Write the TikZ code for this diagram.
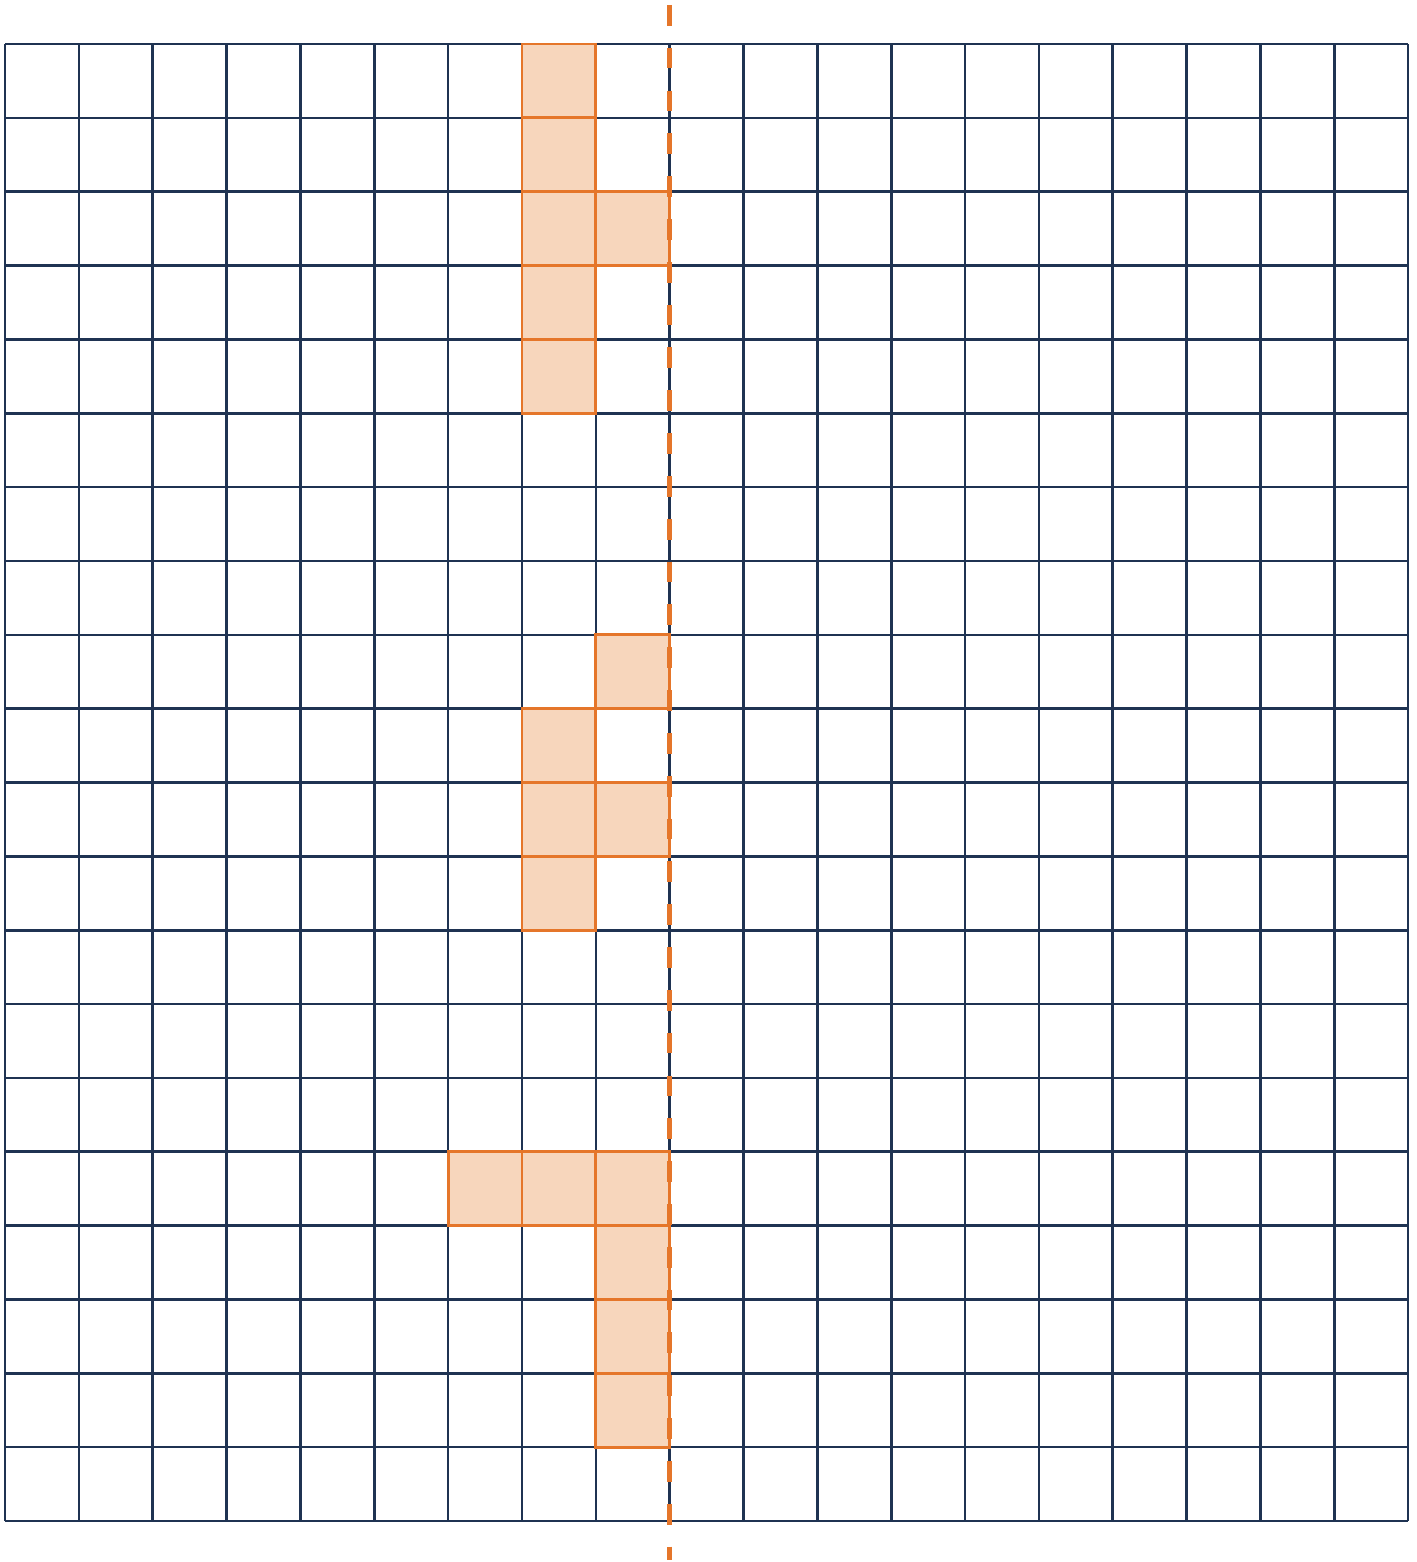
\documentclass[tikz,border=0pt]{standalone}
\usepackage{tikz}
\definecolor{gridnavy}{HTML}{1F3352}
\definecolor{axisorange}{HTML}{E5762A}
\definecolor{cellfill}{HTML}{F7D6BC}
\begin{document}
\begin{tikzpicture}[x=1cm,y=1cm,
  gridline/.style={draw=gridnavy,line width=1pt},
  shaded/.style={fill=cellfill,draw=axisorange,line width=1.1pt},
  axisline/.style={draw=axisorange,line width=2pt,dash pattern=on 8pt off 8.5pt}]
\useasboundingbox (-0.068,-0.555) rectangle (19.108,20.596);
\draw[gridline] (0,0) grid (19,20);
% shaded cells: (col, row-from-top)
\foreach \c/\r in {7/0,7/1,7/2,8/2,7/3,7/4,8/8,7/9,7/10,8/10,7/11,6/15,7/15,8/15,8/16,8/17,8/18}{
  \draw[shaded] (\c,{19-\r}) rectangle ++(1,1);
}
\coordinate (axtop) at (9,20.53);
\coordinate (axbot) at (9,-0.53);
\draw[axisline] (axtop) -- (axbot);
\end{tikzpicture}
\end{document}
